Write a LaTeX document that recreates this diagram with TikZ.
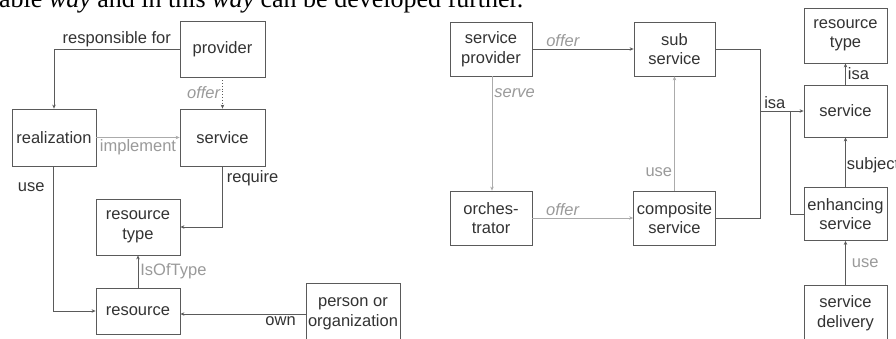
\documentclass[tikz,border=0pt]{standalone}
\usepackage{fontspec}
\setmainfont{Liberation Sans}
\newfontfamily\bodyserif{Liberation Serif}
\usetikzlibrary{arrows.meta}
\definecolor{ink}{HTML}{333333}
\definecolor{edge}{HTML}{5A5A5A}
\definecolor{pale}{HTML}{ABABAB}
\definecolor{labelgrey}{HTML}{9A9A9A}
\tikzset{
  box/.style={draw=edge, line width=0.8pt, text=ink, align=center,
    inner sep=0pt, font=\fontsize{16.5}{19.5}\selectfont},
  conn/.style={draw=edge, line width=0.8pt},
  faint/.style={draw=pale, line width=0.8pt},
  tip/.style={-{Stealth[length=4pt,width=3.5pt]}},
  lbl/.style={text=ink, inner sep=2pt, font=\fontsize{16.5}{19.5}\selectfont},
  glbl/.style={text=labelgrey, inner sep=2pt, font=\fontsize{16.5}{19.5}\selectfont},
  ilbl/.style={glbl, font=\fontsize{16.5}{19.5}\selectfont\itshape},
}
\begin{document}
\begin{tikzpicture}[x=1pt, y=-1pt]
\useasboundingbox (0,0) rectangle (896,338);
\clip (0,0) rectangle (896,338);
\fill[white] (0,0) rectangle (896,338);

% running text line above the figures
\node[anchor=base west, inner sep=0pt, text=black,
      font=\bodyserif\fontsize{26}{30}\selectfont] (runtext) at (-1,7)
  {able \textit{way} and in this \textit{way} can be developed further.};

% ---------- left figure ----------
\node[box, minimum width=85pt, minimum height=56pt] (provider) at (222.5,49) {provider};
\node[box, minimum width=84pt, minimum height=57pt] (realization) at (54,137.5) {realization};
\node[box, minimum width=85pt, minimum height=57pt] (serviceL) at (222.5,137.5) {service};
\node[box, minimum width=84pt, minimum height=56pt] (restypeL) at (138,227) {resource\\type};
\node[box, minimum width=84pt, minimum height=46pt] (resource) at (138,311) {resource};
\node[box, minimum width=94pt, minimum height=62pt] (person) at (353,314) {person or\\organization};

\draw[conn, tip] (provider.west) -| (realization.north)
  node[lbl, above, pos=0.25] (lresp) {responsible for};
\draw[conn, tip, dotted] (provider.south) -- (serviceL.north)
  node[ilbl, left, pos=0.5] (loffer) {offer};
\draw[faint, tip] (realization.east) -- (serviceL.west)
  node[glbl, below, pos=0.5] (limpl) {implement};
\draw[conn, tip] (serviceL.south) |- (restypeL.east)
  node[lbl, right, pos=0.1, xshift=2pt] (lreq) {require};
\draw[conn, tip] (realization.south -| 53,0) |- (resource.west)
  node[lbl, left, pos=0.07, xshift=-6pt] (luse) {use};
\draw[conn, tip] (resource.north) -- (restypeL.south)
  node[glbl, right, pos=0.5] (lisof) {IsOfType};
\draw[conn, tip] (person.west) -- (person.west -| resource.east)
  node[lbl, below, pos=0.2] (lown) {own};

% ---------- right figure ----------
\node[box, minimum width=82pt, minimum height=54pt] (sprov) at (491,49) {service\\provider};
\node[box, minimum width=81pt, minimum height=54pt] (sub) at (674.5,49) {sub\\service};
\node[box, minimum width=82pt, minimum height=54pt] (orch) at (491,218) {orches-\\trator};
\node[box, minimum width=82pt, minimum height=54pt] (comp) at (674.5,218) {composite\\service};
\node[box, minimum width=83pt, minimum height=55pt] (restypeR) at (845.5,35.5) {resource\\type};
\node[box, minimum width=83pt, minimum height=52pt] (serviceR) at (845.5,111) {service};
\node[box, minimum width=83pt, minimum height=53pt] (enh) at (845.5,214) {enhancing\\service};
\node[box, minimum width=83pt, minimum height=56pt] (delivery) at (845.5,313) {service\\delivery};

\coordinate (isajoin) at (760,111);
\coordinate (enhjoin) at (790,111);

\draw[conn, tip] (sprov.east) -- (sub.west)
  node[ilbl, above, pos=0.3] (roffer1) {offer};
\draw[faint, tip] (sprov.south -| 492,0) -- (orch.north -| 492,0)
  node[ilbl, right, pos=0.15] (rserve) {serve};
\draw[faint, tip] (orch.east) -- (comp.west)
  node[ilbl, above, pos=0.3] (roffer2) {offer};
\draw[faint, tip] (comp.north) -- (sub.south)
  node[glbl, left, pos=0.16] (ruse1) {use};
\draw[conn] (sub.east) -| (isajoin) |- (comp.east);
\draw[conn, tip] (isajoin) -- (serviceR.west)
  node[lbl, above, pos=0.34] (risa1) {isa};
\draw[conn] (enh.west) -| (enhjoin);
\draw[conn, tip] (enh.north) -- (serviceR.south)
  node[lbl, right, pos=0.44, inner sep=1pt] (rsubj) {subject};
\draw[conn, tip] (serviceR.north) -- (restypeR.south)
  node[lbl, right, pos=0.5] (risa2) {isa};
\draw[conn, tip] (delivery.north) -- (enh.south)
  node[glbl, right, pos=0.5, xshift=4pt] (ruse2) {use};
\end{tikzpicture}
\end{document}
